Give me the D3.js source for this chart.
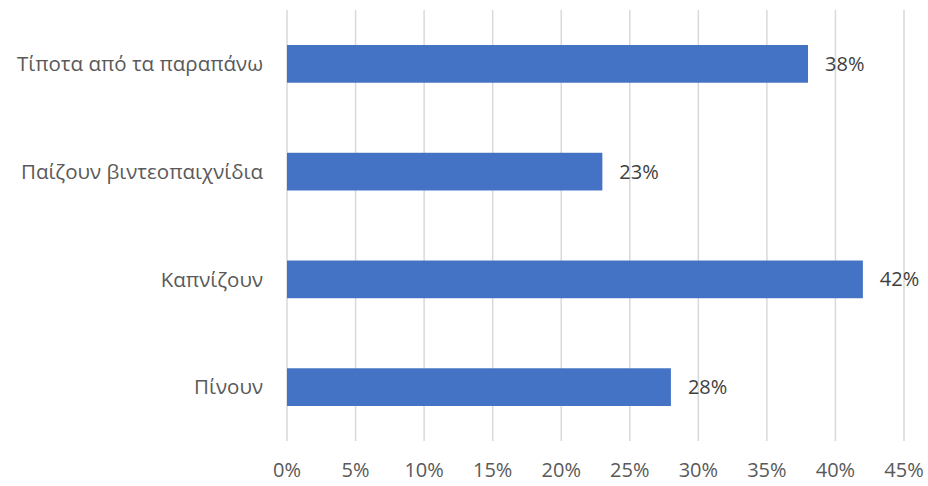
<!DOCTYPE html>
<html>
<head>
<meta charset="utf-8">
<script src="https://cdn.jsdelivr.net/npm/d3@7"></script>
<style>
  body { margin: 0; background: #fff; }
  text { font-family: "Open Sans", "Noto Sans", sans-serif; }
</style>
</head>
<body>
<div id="chart"></div>
<script>
const categories = ["Τίποτα από τα παραπάνω", "Παίζουν βιντεοπαιχνίδια", "Καπνίζουν", "Πίνουν"];
const values = [38, 23, 42, 28];
const ticks = [0, 5, 10, 15, 20, 25, 30, 35, 40, 45];

const width = 928;
const height = 486;
const margin = { top: 10, right: 24, bottom: 45, left: 287 };

const svg = d3.select("#chart")
  .append("svg")
  .attr("width", width)
  .attr("height", height);

const x = d3.scaleLinear()
  .domain([0, 45])
  .range([margin.left, width - margin.right]);

const y = d3.scaleBand()
  .domain(categories)
  .range([margin.top, height - margin.bottom])
  .paddingInner(0.65)
  .paddingOuter(0.325);

// gridlines
svg.append("g")
  .selectAll("line")
  .data(ticks)
  .enter()
  .append("line")
  .attr("x1", (d) => x(d))
  .attr("x2", (d) => x(d))
  .attr("y1", margin.top)
  .attr("y2", height - margin.bottom)
  .attr("stroke", "#d9d9d9")
  .attr("stroke-width", 1.5);

// bars
svg.append("g")
  .selectAll("rect")
  .data(values)
  .enter()
  .append("rect")
  .attr("x", x(0))
  .attr("y", (d, i) => y(categories[i]))
  .attr("width", (d) => x(d) - x(0))
  .attr("height", y.bandwidth())
  .attr("fill", "#4472c4");

// data labels
svg.append("g")
  .selectAll("text")
  .data(values)
  .enter()
  .append("text")
  .attr("x", (d) => x(d) + 17)
  .attr("y", (d, i) => y(categories[i]) + y.bandwidth() / 2)
  .attr("dy", "0.35em")
  .attr("font-size", 20)
  .attr("fill", "#404040")
  .text((d) => d + "%");

// category labels
svg.append("g")
  .selectAll("text")
  .data(categories)
  .enter()
  .append("text")
  .attr("x", margin.left - 24)
  .attr("y", (d) => y(d) + y.bandwidth() / 2)
  .attr("dy", "0.35em")
  .attr("text-anchor", "end")
  .attr("font-size", 20.5)
  .attr("fill", "#595959")
  .text((d) => d);

// x tick labels
svg.append("g")
  .selectAll("text")
  .data(ticks)
  .enter()
  .append("text")
  .attr("x", (d) => x(d))
  .attr("y", 470)
  .attr("dy", "0.35em")
  .attr("text-anchor", "middle")
  .attr("font-size", 20)
  .attr("fill", "#595959")
  .text((d) => d + "%");
</script>
</body>
</html>
